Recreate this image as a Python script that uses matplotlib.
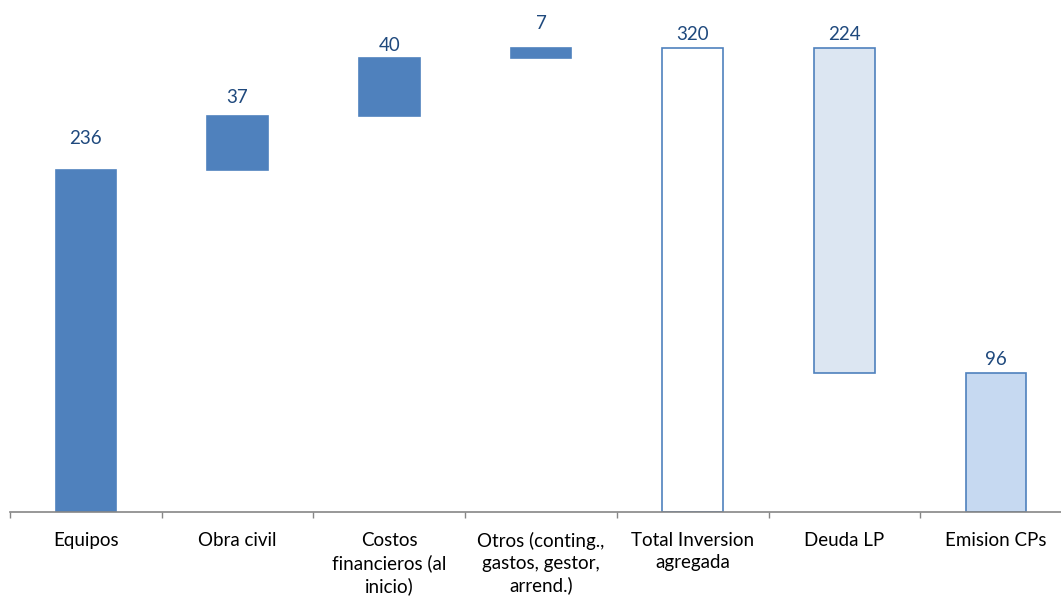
import matplotlib.pyplot as plt
import numpy as np

categories = ["Equipos", "Obra civil", "Costos\nfinancieros (al\ninicio)",
              "Otros (conting.,\ngastos, gestor,\narrend.)", "Total Inversion\nagregada",
              "Deuda LP", "Emision CPs"]
values = [236, 37, 40, 7, 320, 224, 96]
bottoms = [0, 236, 273, 313, 0, 96, 0]

fills = ["#4F81BD", "#4F81BD", "#4F81BD", "#4F81BD", "#FFFFFF", "#DCE6F2", "#C6D9F1"]
edge = "#4F81BD"
label_pad = [31, 19, 13, 24, 13, 13, 13]  # px from bar top to label centre

plt.rcParams['font.family'] = ['Lato', 'DejaVu Sans']

fig = plt.figure(figsize=(10.61, 6.01), dpi=100)
ax = fig.add_axes([10 / 1061, 89 / 601, 1062 / 1061, 512 / 601])

x = np.arange(len(values))
ax.bar(x, values, bottom=bottoms, width=0.4, color=fills, edgecolor=edge, linewidth=1.2)

for xi, v, b, p in zip(x, values, bottoms, label_pad):
    ax.annotate(str(v), (xi, b + v), xytext=(0, p * 0.72), textcoords="offset points",
                ha="center", va="center", fontsize=13.5, color="#1F497D")

ax.set_xlim(-0.5, len(values) - 0.5)
ax.set_ylim(0, 353)
ax.set_xticks(x)
ax.set_xticklabels(categories, fontsize=13.5, linespacing=1.33)
ax.set_xticks(np.arange(len(values)) - 0.5, minor=True)
ax.tick_params(axis="x", which="major", length=0, pad=14.5)
ax.tick_params(axis="x", which="minor", length=4.5, color="#868686", width=1)
ax.set_yticks([])
for s in ["top", "right", "left"]:
    ax.spines[s].set_visible(False)
ax.spines["bottom"].set_color("#868686")
ax.spines["bottom"].set_linewidth(1.2)

fig.savefig("out.png", dpi=100)
